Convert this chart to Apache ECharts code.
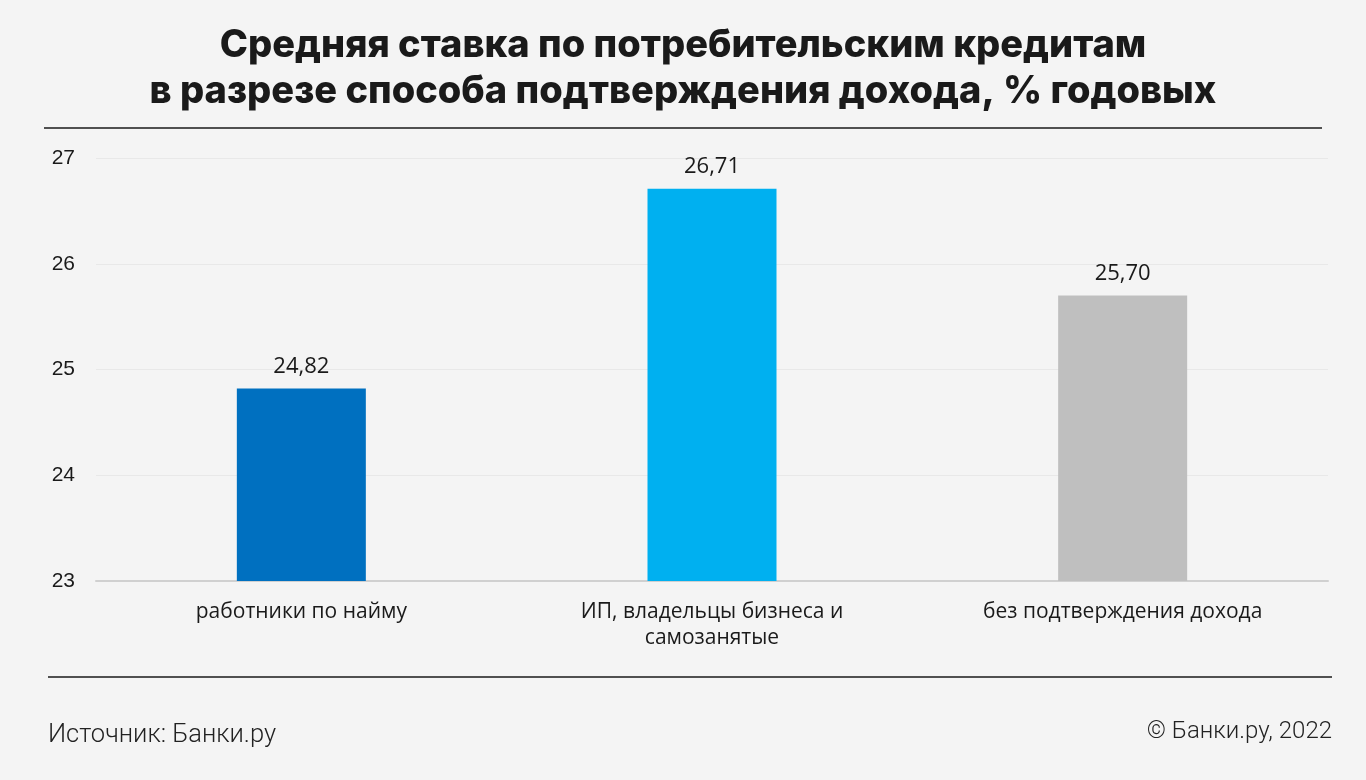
<!DOCTYPE html>
<html><head><meta charset="utf-8">
<script src="https://cdn.jsdelivr.net/npm/echarts@6/dist/echarts.min.js"></script>
<style>html,body{margin:0;padding:0;background:#f4f4f4;}#c{width:1366px;height:780px;}</style>
</head><body><div id="c"></div>
<script>
const categories = ['работники по найму', 'ИП, владельцы бизнеса и\nсамозанятые', 'без подтверждения дохода'];
const values = [24.82, 26.71, 25.70];
const colors = ['#0070c0', '#00b0f0', '#bfbfbf'];
const yTicks = [23, 24, 25, 26, 27];
const titleText = 'Средняя ставка по потребительским кредитам\nв разрезе способа подтверждения дохода, % годовых';
const sourceText = 'Источник: Банки.ру';
const copyrightText = '© Банки.ру, 2022';

const chart = echarts.init(document.getElementById('c'));
chart.setOption({
  backgroundColor: '#f4f4f4',
  animation: false,
  title: {
    text: titleText, left: 'center', top: 18,
    textStyle: {fontFamily: 'Inter', fontWeight: 800, fontSize: 38, lineHeight: 46, color: '#1a1a1a'}
  },
  grid: {left: 96, right: 38, top: 158, bottom: 199},
  xAxis: {
    type: 'category', data: categories,
    axisLine: {lineStyle: {color: '#d0d0d0', width: 2}},
    axisTick: {show: false},
    axisLabel: {fontFamily: 'Open Sans', fontSize: 21, color: '#1a1a1a', margin: 18, lineHeight: 26, interval: 0}
  },
  yAxis: {
    type: 'value', min: yTicks[0], max: yTicks[yTicks.length - 1], interval: 1,
    axisLine: {show: false}, axisTick: {show: false},
    splitLine: {lineStyle: {color: '#e8e8e8', width: 1}},
    axisLabel: {fontFamily: 'Liberation Sans', fontSize: 21, color: '#1a1a1a', margin: 21}
  },
  series: [{
    type: 'bar', barWidth: 129,
    data: values.map((v, i) => ({value: v, itemStyle: {color: colors[i]}})),
    label: {
      show: true, position: 'top', distance: 11,
      fontFamily: 'Open Sans', fontSize: 22, color: '#1a1a1a',
      formatter: p => p.value.toFixed(2).replace('.', ',')
    }
  }],
  graphic: [
    {type: 'line', shape: {x1: 44, y1: 128, x2: 1322, y2: 128}, style: {stroke: '#1a1a1a', lineWidth: 1.5}},
    {type: 'line', shape: {x1: 48, y1: 677, x2: 1332, y2: 677}, style: {stroke: '#1a1a1a', lineWidth: 1.5}},
    {type: 'text', left: 48, top: 723, style: {text: sourceText, font: '300 25.5px Roboto', fill: '#222'}},
    {type: 'text', right: 34, top: 720, style: {text: copyrightText, font: '300 24px Roboto', fill: '#222'}}
  ]
});
</script></body></html>
